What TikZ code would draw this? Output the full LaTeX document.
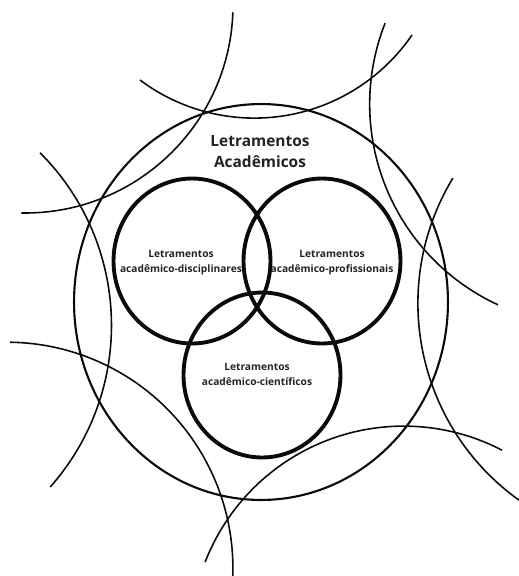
\documentclass[tikz,border=0pt]{standalone}
\usepackage{fontspec}
\setmainfont{Open Sans}
\usetikzlibrary{shapes.geometric,positioning}
\definecolor{ringclr}{RGB}{10,10,10}
\definecolor{lblclr}{RGB}{35,35,35}
\tikzset{
  ring/.style={ellipse,draw=ringclr,line width=2.2pt,
    minimum width=3.14cm,minimum height=3.30cm,inner sep=0pt},
  outerring/.style={ellipse,draw=ringclr,line width=1.2pt,
    minimum width=7.48cm,minimum height=7.92cm,inner sep=0pt},
  strand/.style={draw=ringclr,line width=0.9pt},
  hdr/.style={font=\fontsize{8.8}{11.9}\selectfont\bfseries,align=center,
    text=lblclr,inner sep=0pt},
  lbl/.style={font=\fontsize{5.8}{8.5}\selectfont\bfseries,align=center,
    text=lblclr,inner sep=0pt},
}
\begin{document}
\begin{tikzpicture}[x=0.02cm,y=-0.02cm]
  \useasboundingbox (0,0) rectangle (519,576);

  % loose strands round the whole
  \draw[strand] ([shift={(2:208)}]25,5) arc[start angle=2,end angle=91,radius=208];
  \draw[strand] ([shift={(126.8:191)}]254.4,-72.9) arc[start angle=126.8,end angle=34.4,radius=191];
  \draw[strand] ([shift={(-45:244)}]-132.5,325.3) arc[start angle=-45,end angle=41.5,radius=244];
  \draw[strand] ([shift={(-89.2:226)}]6.9,568.2) arc[start angle=-89.2,end angle=2,radius=226];
  \draw[strand] ([shift={(201.2:213)}]403.7,639.1) arc[start angle=201.2,end angle=297.5,radius=213];
  \draw[strand] ([shift={(201.5:221)}]590.7,104.2) arc[start angle=201.5,end angle=114.8,radius=221];
  \draw[strand] ([shift={(211.2:242)}]659.9,303.4) arc[start angle=211.2,end angle=125.6,radius=242];

  \node[outerring] (acad) at (261,302) {};
  \node[hdr] (acadlbl) at (260,152) {Letramentos\\Acadêmicos};

  \node[ring] (disc) at (192,261) {};
  \node[ring] (prof) at (322,261) {};
  \node[ring] (cien) at (262,375) {};

  \node[lbl] (disclbl) at (181,262.5) {Letramentos\\acadêmico-disciplinares};
  \node[lbl] (proflbl) at (332,262.5) {Letramentos\\acadêmico-profissionais};
  \node[lbl] (cienlbl) at (257,374.5) {Letramentos\\acadêmico-científicos};

\end{tikzpicture}
\end{document}
